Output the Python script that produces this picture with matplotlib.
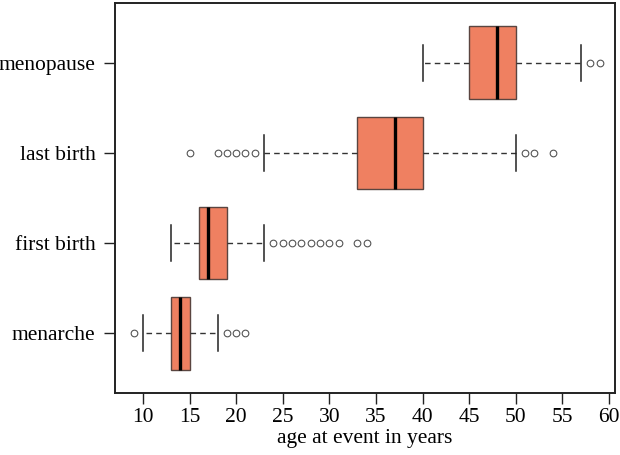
import matplotlib.pyplot as plt

plt.rcParams['font.family'] = ['Liberation Serif', 'DejaVu Serif']

# summary values (years)
events = ['menarche', 'first birth', 'last birth', 'menopause']
q1 = [13, 16, 33, 45]
median = [14, 17, 37, 48]
q3 = [15, 19, 40, 50]
whisker_lo = [10, 13, 23, 40]
whisker_hi = [18, 23, 50, 57]
outliers = [
    [9, 19, 20, 21],
    [24, 25, 26, 27, 28, 29, 30, 31, 33, 34],
    [15, 18, 19, 20, 21, 22, 51, 52, 54],
    [58, 59],
]

stats = []
for i, name in enumerate(events):
    stats.append(dict(label=name, q1=q1[i], med=median[i], q3=q3[i],
                      whislo=whisker_lo[i], whishi=whisker_hi[i],
                      fliers=outliers[i]))

fig = plt.figure(figsize=(6.2, 4.55), dpi=100)
ax = fig.add_axes([0.1855, 0.1363, 0.8064, 0.8571])

ax.bxp(stats, positions=range(1, 5), vert=False, widths=0.8,
       patch_artist=True, showfliers=True,
       boxprops=dict(facecolor='#EF8061', edgecolor='#5a4540', linewidth=1.0),
       medianprops=dict(color='black', linewidth=2.4),
       whiskerprops=dict(color='#333333', linestyle=(0, (4, 3)), linewidth=1.0),
       capprops=dict(color='#222222', linewidth=1.1),
       capwidths=0.4,
       flierprops=dict(marker='o', markersize=4.8, markerfacecolor='none',
                       markeredgecolor='#555555', markeredgewidth=0.8))

ax.set_xlim(7.0, 60.65)
ax.set_ylim(0.34, 4.66)
ax.set_xticks(range(10, 61, 5))
ax.set_yticks(range(1, 5))
ax.set_yticklabels(events)
ax.tick_params(axis='both', labelsize=15.5, length=8, width=1.0, color='#222222')
ax.tick_params(axis='x', pad=3)
ax.tick_params(axis='y', pad=6)
ax.set_xlabel('age at event in years', fontsize=15.5, labelpad=1)
for s in ax.spines.values():
    s.set_linewidth(1.4)
    s.set_color('#222222')

fig.savefig('out.png', dpi=100)
